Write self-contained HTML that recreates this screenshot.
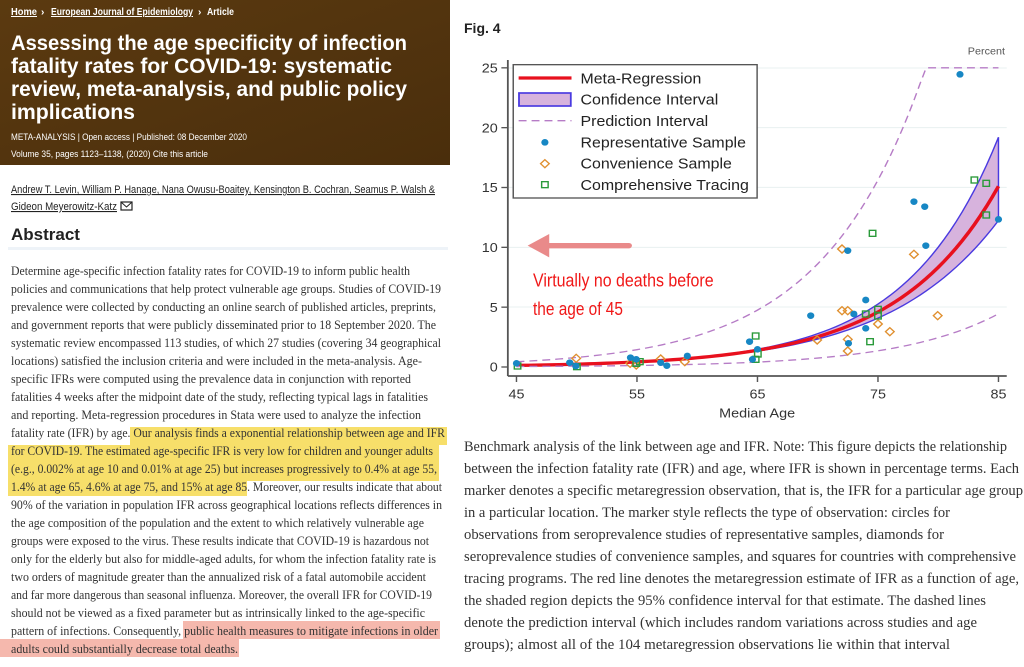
<!DOCTYPE html>
<html><head><meta charset="utf-8"><style>
html,body{margin:0;padding:0;background:#fff;}
svg{display:block}
.b{font-family:"Liberation Serif",serif;font-size:13px;fill:#333}
.c{font-family:"Liberation Serif",serif;font-size:15px;fill:#333}
.s{font-family:"Liberation Sans",sans-serif}
</style></head><body>
<svg id="s" width="1024" height="667" viewBox="0 0 1024 667" xmlns="http://www.w3.org/2000/svg">
<defs><linearGradient id="g" x1="0" x2="1" y1="0" y2="1"><stop offset="0" stop-color="#5b3a10"/><stop offset="1" stop-color="#4a2e0c"/></linearGradient></defs>
<rect x="0" y="0" width="450" height="165" fill="url(#g)"/>
<g class="s" fill="#fff">
<text x="11" y="15" font-size="10" font-weight="bold" text-decoration="underline" textLength="26" lengthAdjust="spacingAndGlyphs">Home</text>
<text x="41" y="15" font-size="10" font-weight="bold">›</text>
<text x="51" y="15" font-size="10" font-weight="bold" text-decoration="underline" textLength="142" lengthAdjust="spacingAndGlyphs">European Journal of Epidemiology</text>
<text x="198" y="15" font-size="10" font-weight="bold">›</text>
<text x="207" y="15" font-size="10" font-weight="bold" textLength="27" lengthAdjust="spacingAndGlyphs">Article</text>
<text x="11" y="50" font-size="21" font-weight="bold" textLength="396" lengthAdjust="spacingAndGlyphs">Assessing the age specificity of infection</text>
<text x="11" y="73" font-size="21" font-weight="bold" textLength="381" lengthAdjust="spacingAndGlyphs">fatality rates for COVID-19: systematic</text>
<text x="11" y="96" font-size="21" font-weight="bold" textLength="396" lengthAdjust="spacingAndGlyphs">review, meta-analysis, and public policy</text>
<text x="11" y="119" font-size="21" font-weight="bold" textLength="124" lengthAdjust="spacingAndGlyphs">implications</text>
<text x="11" y="140" font-size="9" textLength="236" lengthAdjust="spacingAndGlyphs">META-ANALYSIS | Open access | Published: 08 December 2020</text>
<text x="11" y="157" font-size="9" textLength="197" lengthAdjust="spacingAndGlyphs">Volume 35, pages 1123–1138, (2020)   Cite this article</text>
</g>
<g class="s" fill="#222">
<text x="11" y="193" font-size="11" text-decoration="underline" textLength="424" lengthAdjust="spacingAndGlyphs">Andrew T. Levin, William P. Hanage, Nana Owusu-Boaitey, Kensington B. Cochran, Seamus P. Walsh &amp;</text>
<text x="11" y="210" font-size="11" text-decoration="underline" textLength="106" lengthAdjust="spacingAndGlyphs">Gideon Meyerowitz-Katz</text>
<rect x="121" y="202" width="11" height="8" fill="none" stroke="#222" stroke-width="1.2"/><path d="M121 202 L126.5 207 L132 202" fill="none" stroke="#222"/>
<text x="11" y="240" font-size="17" font-weight="bold">Abstract</text>
</g>
<rect x="8" y="247" width="440" height="3" fill="#eef3f8"/>
<g fill="#f7df6a"><rect x="130" y="427" width="317" height="18"/><rect x="8" y="445" width="431" height="36"/><rect x="8" y="481" width="239" height="15"/></g>
<g fill="#f5b8ad"><rect x="183" y="621" width="257" height="18"/><rect x="0" y="639" width="239" height="18"/></g>
<g class="b" id="body"></g>
<text x="464" y="33" class="s" font-size="14" font-weight="bold" fill="#222">Fig. 4</text>
<g class="c" id="cap"></g>
<g id="ch" transform="translate(460,0) scale(0.3597,0.33333)"></g>
</svg>
<script>
var NS="http://www.w3.org/2000/svg";
function el(p,t,a,txt){var e=document.createElementNS(NS,t);for(var k in a)e.setAttribute(k,a[k]);if(txt!=null)e.textContent=txt;p.appendChild(e);return e;}
var body=[["Determine age-specific infection fatality rates for COVID-19 to inform public health",410],
["policies and communications that help protect vulnerable age groups. Studies of COVID-19",441],
["prevalence were collected by conducting an online search of published articles, preprints,",436],
["and government reports that were publicly disseminated prior to 18 September 2020. The",436],
["systematic review encompassed 113 studies, of which 27 studies (covering 34 geographical",441],
["locations) satisfied the inclusion criteria and were included in the meta-analysis. Age-",422],
["specific IFRs were computed using the prevalence data in conjunction with reported",411],
["fatalities 4 weeks after the midpoint date of the study, reflecting typical lags in fatalities",428],
["and reporting. Meta-regression procedures in Stata were used to analyze the infection",421],
["fatality rate (IFR) by age. Our analysis finds a exponential relationship between age and IFR",445],
["for COVID-19. The estimated age-specific IFR is very low for children and younger adults",433],
["(e.g., 0.002% at age 10 and 0.01% at age 25) but increases progressively to 0.4% at age 55,",437],
["1.4% at age 65, 4.6% at age 75, and 15% at age 85. Moreover, our results indicate that about",442],
["90% of the variation in population IFR across geographical locations reflects differences in",442],
["the age composition of the population and the extent to which relatively vulnerable age",424],
["groups were exposed to the virus. These results indicate that COVID-19 is hazardous not",429],
["only for the elderly but also for middle-aged adults, for whom the infection fatality rate is",436],
["two orders of magnitude greater than the annualized risk of a fatal automobile accident",426],
["and far more dangerous than seasonal influenza. Moreover, the overall IFR for COVID-19",432],
["should not be viewed as a fixed parameter but as intrinsically linked to the age-specific",425],
["pattern of infections. Consequently, public health measures to mitigate infections in older",438],
["adults could substantially decrease total deaths.",238]];
var g=document.getElementById("body");
body.forEach(function(l,i){el(g,"text",{x:11,y:275+i*18,textLength:l[1]-11,lengthAdjust:"spacingAndGlyphs"},l[0]);});
var cap=[["Benchmark analysis of the link between age and IFR. Note: This figure depicts the relationship",1007],
["between the infection fatality rate (IFR) and age, where IFR is shown in percentage terms. Each",1019],
["marker denotes a specific metaregression observation, that is, the IFR for a particular age group",1023],
["in a particular location. The marker style reflects the type of observation: circles for",950],
["observations from seroprevalence studies of representative samples, diamonds for",944],
["seroprevalence studies of convenience samples, and squares for countries with comprehensive",1016],
["tracing programs. The red line denotes the metaregression estimate of IFR as a function of age,",1019],
["the shaded region depicts the 95% confidence interval for that estimate. The dashed lines",986],
["denote the prediction interval (which includes random variations across studies and age",977],
["groups); almost all of the 104 metaregression observations lie within that interval",950]];
var gc=document.getElementById("cap");
cap.forEach(function(l,i){el(gc,"text",{x:464,y:451+i*22,textLength:l[1]-464,lengthAdjust:"spacingAndGlyphs"},l[0]);});
var ch=document.getElementById("ch");
function X(a){return 157+(a-45)*33.5;} function Y(v){return 1101-v*35.9;}
[204,383,562,742,921].forEach(function(y){el(ch,"line",{x1:133,x2:1520,y1:y,y2:y,stroke:"#e8f0f0","stroke-width":3});});
function v(a){return Math.exp(-7.4+0.119*a);}
function f(a){return Math.pow((a-45)/40,2);}
var up=[],lo=[],m=[],pu=[],pl=[];
for(var a=45;a<=85.001;a+=0.5){up.push(X(a)+","+Y(v(a)*Math.exp(0.24*f(a))));lo.push(X(a)+","+Y(v(a)*Math.exp(-0.21*f(a))));m.push(X(a)+","+Y(v(a)));pu.push(X(a)+","+Y(Math.min(25,v(a)*3.4)));pl.push(X(a)+","+Y(v(a)/3.4));}
el(ch,"polygon",{points:up.concat(lo.slice().reverse()).join(" "),fill:"#d7b3dd",stroke:"#4a3ae0","stroke-width":4});
el(ch,"polyline",{points:m.join(" "),fill:"none",stroke:"#e8101e","stroke-width":10});
el(ch,"polyline",{points:pu.join(" "),fill:"none",stroke:"#b67cc6","stroke-width":4,"stroke-dasharray":"22 14"});
el(ch,"polyline",{points:pl.join(" "),fill:"none",stroke:"#b67cc6","stroke-width":4,"stroke-dasharray":"22 14"});
var bl=[[157,1090],[305,1088],[322,1098],[474,1073],[490,1078],[558,1088],[575,1097],[632,1068],[805,1025],[813,1078],[827,1048],[975,947],[1078,752],[1080,1030],[1095,942],[1128,900],[1128,985],[1262,605],[1292,620],[1295,737],[1390,223],[1497,658]];
var or=[[323,1075],[473,1090],[490,1095],[558,1077],[625,1085],[993,1020],[1062,747],[1062,932],[1078,932],[1078,1018],[1078,1053],[1162,972],[1195,995],[1262,763],[1328,947]];
var gr=[[160,1098],[325,1100],[490,1090],[500,1085],[822,1008],[822,1078],[828,1062],[1147,700],[1128,942],[1140,1025],[1162,928],[1162,948],[1430,540],[1463,550],[1463,645]];
function circ(p){el(ch,"circle",{cx:p[0],cy:p[1],r:10,fill:"#1787c4"});}
function dia(p){el(ch,"path",{d:"M"+p[0]+" "+(p[1]-12)+"l12 12l-12 12l-12 -12z",fill:"none",stroke:"#e09030","stroke-width":4});}
function sq(p){el(ch,"rect",{x:p[0]-9,y:p[1]-9,width:18,height:18,fill:"none",stroke:"#2a9a3a","stroke-width":4});}
or.forEach(dia);gr.forEach(sq);bl.forEach(circ);
el(ch,"line",{x1:133,x2:133,y1:180,y2:1128,stroke:"#555","stroke-width":5});
el(ch,"line",{x1:133,x2:1520,y1:1128,y2:1128,stroke:"#555","stroke-width":5});
var tk={"font-family":"Liberation Sans,sans-serif","font-size":40,fill:"#333"};
[0,5,10,15,20,25].forEach(function(t){var y=Y(t);el(ch,"line",{x1:115,x2:133,y1:y,y2:y,stroke:"#555","stroke-width":4});var o=Object.assign({x:105,y:y+14,"text-anchor":"end"},tk);el(ch,"text",o,""+t);});
[45,55,65,75,85].forEach(function(t){var x=X(t);el(ch,"line",{x1:x,x2:x,y1:1128,y2:1146,stroke:"#555","stroke-width":4});el(ch,"text",Object.assign({x:x,y:1195,"text-anchor":"middle"},tk),""+t);});
el(ch,"text",Object.assign({x:826,y:1253,"text-anchor":"middle"},tk),"Median Age");
el(ch,"text",{x:1515,y:163,"text-anchor":"end","font-family":"Liberation Sans,sans-serif","font-size":30,fill:"#555"},"Percent");
el(ch,"rect",{x:148,y:194,width:678,height:400,fill:"#fff",stroke:"#555","stroke-width":4});
el(ch,"line",{x1:163,x2:310,y1:234,y2:234,stroke:"#e8101e","stroke-width":10});
el(ch,"rect",{x:164,y:279,width:144,height:39,fill:"#d7b3dd",stroke:"#4a3ae0","stroke-width":5});
el(ch,"line",{x1:163,x2:310,y1:362,y2:362,stroke:"#b67cc6","stroke-width":4,"stroke-dasharray":"22 14"});
circ([236,427]);dia([236,491]);sq([236,554]);
var lt={"font-family":"Liberation Sans,sans-serif","font-size":44,fill:"#222"};
[["Meta-Regression",250,336],["Confidence Interval",314,383],["Prediction Interval",378,355],["Representative Sample",442,460],["Convenience Sample",506,421],["Comprehensive Tracing",570,468]].forEach(function(l){el(ch,"text",Object.assign({x:335,y:l[1],textLength:l[2],lengthAdjust:"spacingAndGlyphs"},lt),l[0]);});
el(ch,"line",{x1:470,x2:235,y1:737,y2:737,stroke:"#e98a8a","stroke-width":16,"stroke-linecap":"round"});
el(ch,"path",{d:"M188 737 L248 702 L248 772 Z",fill:"#e98a8a"});
var rt={"font-family":"Liberation Sans Narrow,Liberation Sans,sans-serif","font-size":56,fill:"#f01818",lengthAdjust:"spacingAndGlyphs"};
el(ch,"text",Object.assign({x:203,y:860,textLength:502},rt),"Virtually no deaths before");
el(ch,"text",Object.assign({x:203,y:945,textLength:250},rt),"the age of 45");
</script>
</body></html>
